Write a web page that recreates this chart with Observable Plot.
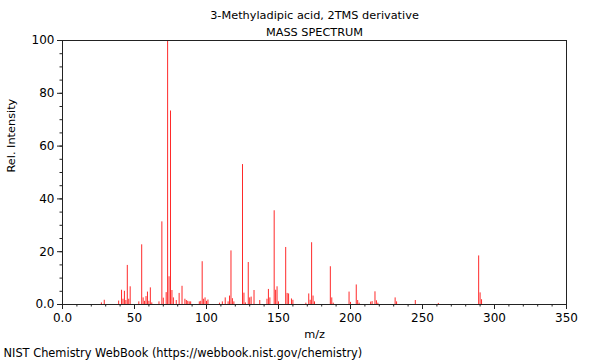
<!DOCTYPE html>
<html>
<head>
<meta charset="utf-8">
<script src="https://cdn.jsdelivr.net/npm/d3@7"></script>
<script src="https://cdn.jsdelivr.net/npm/@observablehq/plot@0.6"></script>
<style>
  html, body { margin: 0; padding: 0; background: #fff; }
  body { width: 600px; height: 360px; overflow: hidden; font-family: "DejaVu Sans", sans-serif; }
</style>
</head>
<body>
<div id="chart"></div>
<script>
const titleLines = ["3-Methyladipic acid, 2TMS derivative", "MASS SPECTRUM"];
const xLabel = "m/z";
const yLabel = "Rel. Intensity";
const caption = "NIST Chemistry WebBook (https://webbook.nist.gov/chemistry)";

const mz = [27,29,39,41,42,43,44,45,46,47,53,55,56,57,58,59,60,61,62,67,69,70,72,73,74,75,76,77,79,81,83,85,86,87,88,89,95,96,97,98,99,100,101,109,111,113,115,116,117,118,119,125,126,127,129,130,131,133,137,142,143,144,147,148,149,150,155,156,157,159,160,169,171,172,173,174,175,186,187,188,199,200,204,205,206,214,215,217,218,219,231,232,245,261,289,290,291];
const intensity = [0.6,1.6,1.3,5.4,2,5,1.5,14.8,2,6.7,1,22.6,2.5,1.2,3,4.7,1.2,6.3,0.6,1,31.3,2.4,4.5,100,10.5,73.3,5.3,2.5,1.5,4.2,6.9,2,1.5,1.2,1,1,1,1.2,16.2,2,2.5,1.2,1.7,0.5,1,2.5,1,3.2,20.3,2.2,1,53,4.3,0.6,15.9,2.5,2.8,5.3,1.5,2,5.7,2.5,35.5,5.4,6.7,1,21.6,4.2,4,2.1,1.6,0.5,4,1.6,23.4,3.2,1,14.3,2.5,0.5,4.7,0.8,7.4,1.5,0.5,0.9,1.1,4.8,1.4,0.5,2.5,1,1.5,0.4,18.4,4.4,1.8];

const xMajor = [0, 50, 100, 150, 200, 250, 300, 350];
const xMinor = d3.range(0, 351, 10);
const yMajor = [0, 20, 40, 60, 80, 100];
const yMinor = d3.range(0, 101, 5);

const peaks = mz.map((m, i) => ({mz: m, intensity: intensity[i]}));
const fmt = d => d === 0 ? "0.0" : String(d);

const plot = Plot.plot({
  width: 600,
  height: 360,
  marginLeft: 62,
  marginRight: 34,
  marginTop: 40,
  marginBottom: 56,
  style: {fontFamily: "DejaVu Sans, sans-serif", fontSize: "11px", color: "#000", background: "#fff"},
  x: {domain: [0, 350]},
  y: {domain: [0, 100]},
  marks: [
    Plot.ruleX(peaks, {x: "mz", y1: 0, y2: "intensity", stroke: "#ff2a2a", strokeWidth: 1}),
    Plot.frame({stroke: "#222"}),
    Plot.axisX({ticks: xMinor, tickSize: 2.5, tickFormat: () => "", label: null, stroke: "#222"}),
    Plot.axisX({ticks: xMajor, tickSize: 5, tickFormat: fmt, tickPadding: 4, label: null, fontSize: 12, stroke: "#222", fill: "#000"}),
    Plot.axisY({ticks: yMinor, tickSize: 2.5, tickFormat: () => "", label: null, stroke: "#222"}),
    Plot.axisY({ticks: yMajor, tickSize: 5, tickFormat: fmt, tickPadding: 3, label: null, fontSize: 12, stroke: "#222", fill: "#000"}),
    Plot.text([xLabel], {frameAnchor: "bottom", dy: 33, text: d => d, fontSize: 11.3, fill: "#000"}),
    Plot.text([yLabel], {frameAnchor: "left", dx: -51, rotate: -90, text: d => d, fontSize: 11.3, fill: "#000"}),
    Plot.text([titleLines[0]], {frameAnchor: "top", dy: -30, text: d => d, fontSize: 11.3, fill: "#000"}),
    Plot.text([titleLines[1]], {frameAnchor: "top", dy: -13, text: d => d, fontSize: 11.3, fill: "#000"}),
    Plot.text([caption], {frameAnchor: "bottom-left", dx: -59, dy: 52, textAnchor: "start", text: d => d, fontSize: 11.4, fill: "#000"})
  ]
});
document.getElementById("chart").append(plot);
</script>
</body>
</html>
